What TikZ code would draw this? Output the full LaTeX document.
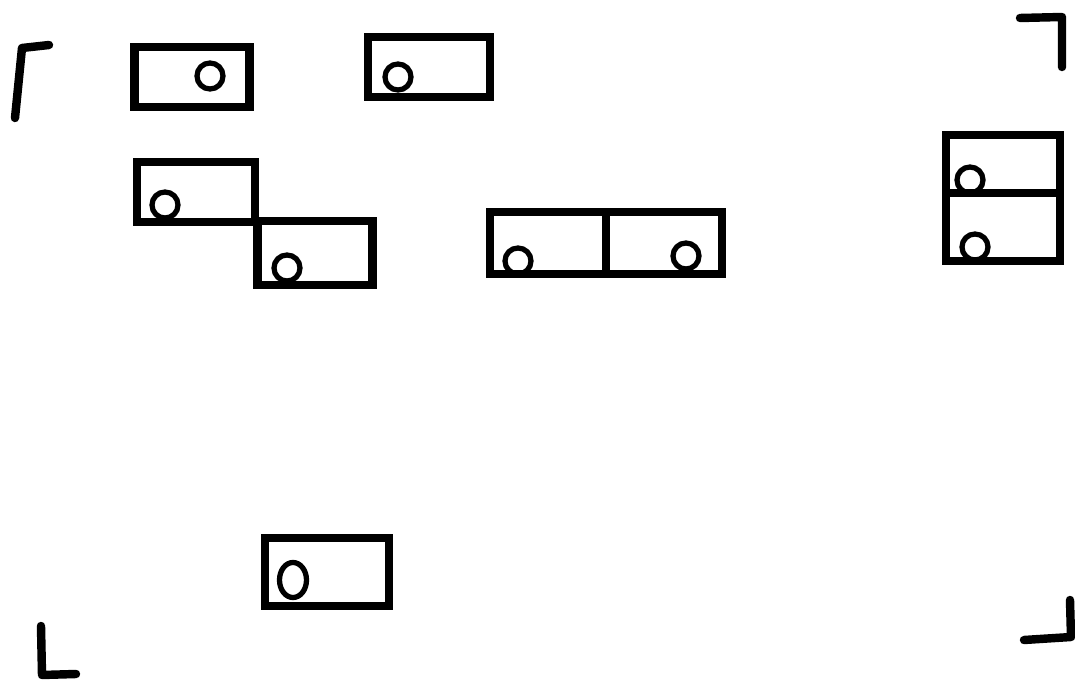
\documentclass[tikz,border=0pt]{standalone}
\usepackage{tikz}
\usetikzlibrary{positioning,shapes.geometric}

\begin{document}
\begin{tikzpicture}[
    x=0.01cm, y=-0.01cm,
    node distance=-2.4pt and -2.4pt,
    frame/.style={draw, rectangle, line width=2.4pt, inner sep=0pt,
      minimum width=1.16cm, minimum height=0.62cm},
    face/.style={draw, circle, line width=1.5pt, inner sep=0pt, minimum size=0.26cm},
    cornerline/.style={line width=2.4pt, line cap=round, line join=round}
  ]
    \useasboundingbox[fill=white] (0,0) rectangle (1075,682);
    % corner marks
    \draw[cornerline] (15,118) -- (22,48) -- (49,45);
    \draw[cornerline] (1020,18) -- (1062,17) -- (1062,67);
    \draw[cornerline] (41,626) -- (42,675) -- (76,674);
    \draw[cornerline] (1070,600) -- (1071,637) -- (1024,640);
    % top row
    \node[frame, minimum width=1.15cm, minimum height=0.60cm] (win1) at (192,77) {};
    \node[face] (cam1) at (210,76) {};
    \node[frame, minimum width=1.22cm, minimum height=0.60cm] (win2) at (429,67) {};
    \node[face] (cam2) at (398,77) {};
    % middle group
    \node[frame, minimum width=1.18cm, minimum height=0.60cm] (win3) at (196,192) {};
    \node[face] (cam3) at (165,205) {};
    \node[frame, minimum width=1.15cm, minimum height=0.64cm] (win4) at (315,253) {};
    \node[face] (cam4) at (287,268) {};
    \node[frame] (win5) at (548,243) {};
    \node[face] (cam5) at (518,261) {};
    \node[frame, right=of win5] (win6) {};
    \node[face] (cam6) at (686,256) {};
    % right stack
    \node[frame, minimum width=1.14cm, minimum height=0.58cm] (win7) at (1003,164) {};
    \node[face] (cam7) at (970,180) {};
    \node[frame, below=of win7, minimum width=1.14cm, minimum height=0.68cm] (win8) {};
    \node[face] (cam8) at (975,247) {};
    % bottom
    \node[frame, minimum width=1.24cm, minimum height=0.68cm] (win9) at (327,572) {};
    \node[draw, ellipse, line width=1.5pt, inner sep=0pt,
      minimum width=0.27cm, minimum height=0.35cm] (cam9) at (293,580) {};
  \end{tikzpicture}
\end{document}
